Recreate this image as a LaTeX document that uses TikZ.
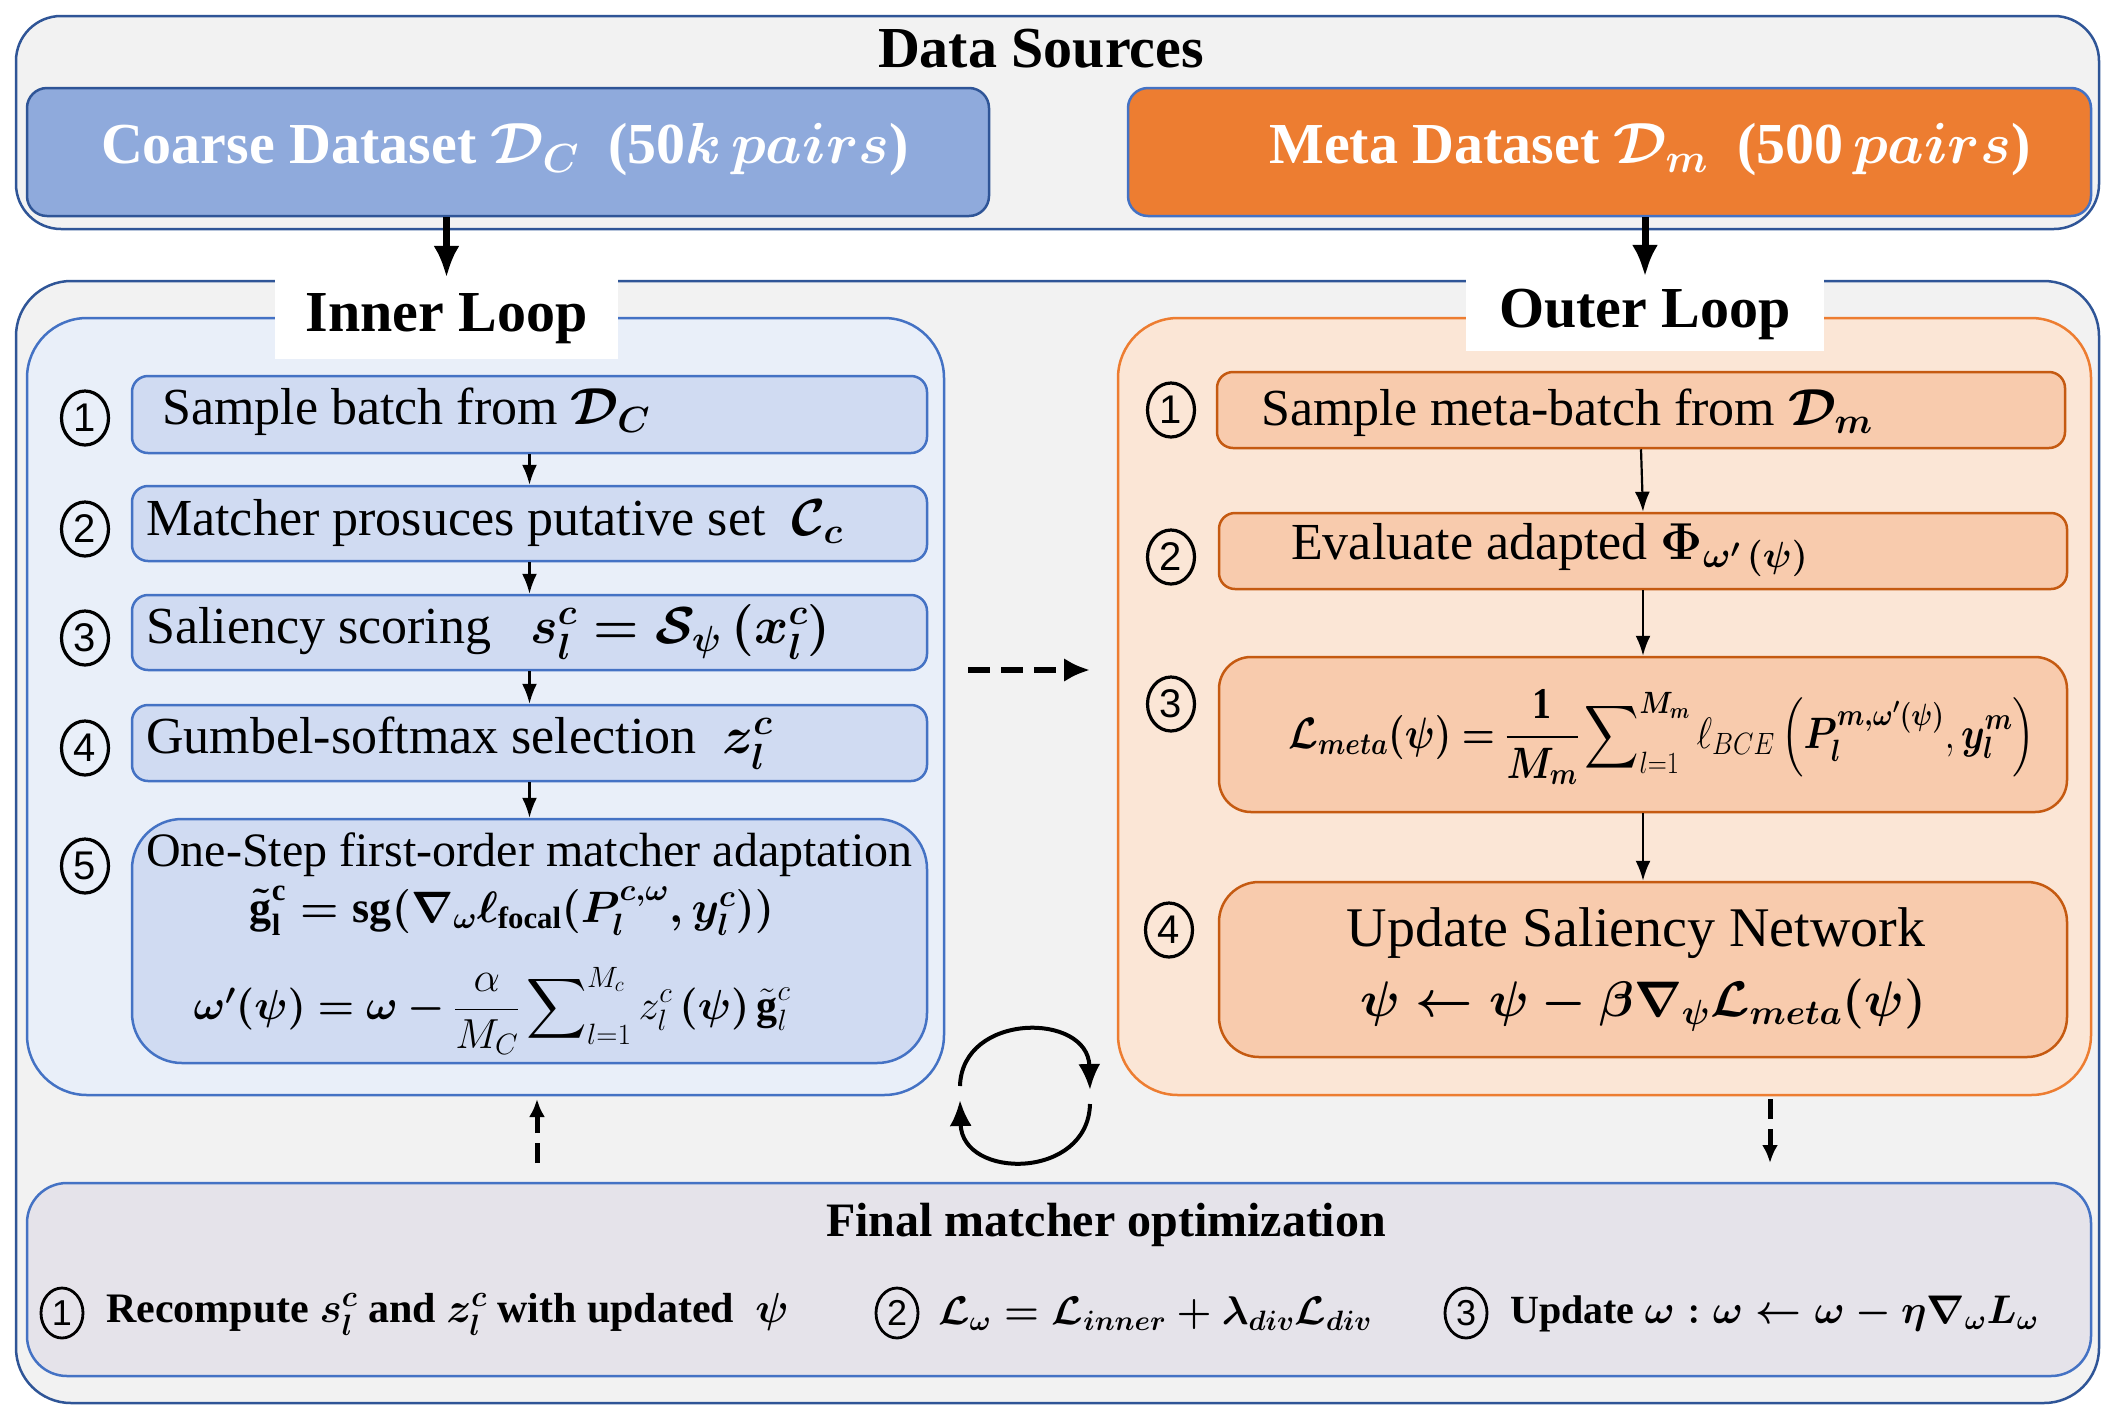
\RequirePackage{fix-cm}
\documentclass[tikz,border=0pt]{standalone}
\usepackage{amsmath,bm}
\DeclareFontShape{OMX}{cmex}{m}{n}{<->cmex10}{}
\usepackage{fontspec}
\setmainfont{Liberation Serif}
\newfontfamily\numfont{Liberation Sans}
\usetikzlibrary{arrows.meta,shapes.geometric}
\definecolor{dsfill}{HTML}{F2F2F2}
\definecolor{dsline}{HTML}{2F5597}
\definecolor{coarsefill}{HTML}{8FAADC}
\definecolor{metafill}{HTML}{ED7D31}
\definecolor{bluel}{HTML}{4472C4}
\definecolor{innerfill}{HTML}{E9EFF9}
\definecolor{stepblue}{HTML}{D0DBF2}
\definecolor{outerfill}{HTML}{FBE6D6}
\definecolor{orangel}{HTML}{ED7D31}
\definecolor{steporange}{HTML}{F8CBAD}
\definecolor{orangedark}{HTML}{C55A11}
\definecolor{finalfill}{HTML}{E5E3EA}
\newcommand{\fsz}[1]{\fontsize{#1pt}{#1pt}\selectfont}
\newcommand{\bmth}[1]{{\boldmath$#1$}}
\tikzset{
  rbox/.style={draw, line width=2.5pt, rounded corners=#1, inner sep=0pt},
  rbox/.default=15pt,
  bstep/.style={rbox=16pt, draw=bluel, fill=stepblue, minimum width=795pt},
  ostep/.style={rbox=16pt, draw=orangedark, fill=steporange, minimum width=848pt},
  plaintext/.style={inner sep=0pt, font=\fsz{52}},
  lefttext/.style={plaintext, anchor=west},
  numlabel/.style={ellipse, draw=black, line width=3.2pt, minimum width=47pt, minimum height=54pt, inner sep=0pt, font=\fsz{40}\numfont},
  smallnum/.style={numlabel, line width=2.8pt, minimum width=42pt, minimum height=50pt, font=\fsz{36}\numfont},
  flow/.style={draw=black, line width=2.2pt, -{Latex[length=20pt,width=15pt]}},
  feed/.style={draw=black, line width=7pt, -{Latex[length=32pt,width=26pt]}},
  hdash/.style={draw=black, line width=5.5pt, dash pattern=on 22pt off 11pt, -{Latex[length=26pt,width=24pt]}},
  vdash/.style={draw=black, line width=5pt, dash pattern=on 20pt off 10pt, -{Latex[length=18pt,width=16pt]}},
  cyc/.style={draw=black, line width=4pt, -{Latex[length=26pt,width=22pt]}}
}
\begin{document}
\begin{tikzpicture}[x=1pt,y=-1pt]
\fill[white] (0,0) rectangle (2115,1417);
\useasboundingbox (0,0) rectangle (2115,1417);

% ---------- Data sources ----------
\node[rbox=45pt, draw=dsline, fill=dsfill, minimum width=2083pt, minimum height=213pt] (ds) at (1057.5,122.5) {};
\node[inner sep=0pt, font=\fsz{58}\bfseries] (dstitle) at (1041,49) {Data Sources};
\node[rbox=20pt, draw=dsline, fill=coarsefill, minimum width=962pt, minimum height=128pt] (coarse) at (508,152) {};
\node[inner sep=0pt, text=white, font=\fsz{58}\bfseries] (coarsetxt) at (505,150) {Coarse Dataset \bmth{\mathcal{D}_C}\ \ (50\bmth{k}\,\bmth{pairs})};
\node[rbox=20pt, draw=bluel, fill=metafill, minimum width=963pt, minimum height=128pt] (meta) at (1609.5,152) {};
\node[inner sep=0pt, text=white, font=\fsz{58}\bfseries] (metatxt) at (1650,150) {Meta Dataset \bmth{\mathcal{D}_m}\ \ (500\,\bmth{pairs})};

% ---------- Middle frame ----------
\node[rbox=55pt, draw=dsline, fill=dsfill, minimum width=2083pt, minimum height=1122pt] (mid) at (1057.5,842) {};
\node[rbox=60pt, draw=bluel, fill=innerfill, minimum width=917pt, minimum height=777pt] (inner) at (485.5,706.5) {};
\node[rbox=60pt, draw=orangel, fill=outerfill, minimum width=973pt, minimum height=777pt] (outer) at (1604.5,706.5) {};
\node[fill=white, inner sep=0pt, minimum width=343pt, minimum height=81pt, font=\fsz{58}\bfseries] (innerlbl) at (446.5,318.5) {Inner Loop};
\node[fill=white, inner sep=0pt, minimum width=358pt, minimum height=74pt, font=\fsz{58}\bfseries] (outerlbl) at (1645,314) {Outer Loop};

\draw[feed] (coarse.south -| innerlbl.north) -- (innerlbl.north);
\draw[feed] (meta.south -| outerlbl.north) -- (outerlbl.north);

% ---------- Inner loop steps ----------
\node[bstep, minimum height=77pt] (s1) at (529.5,414.5) {};
\node[bstep, minimum height=75pt] (s2) at (529.5,523.5) {};
\node[bstep, minimum height=75pt] (s3) at (529.5,632.5) {};
\node[bstep, minimum height=76pt] (s4) at (529.5,743) {};
\node[bstep, rbox=50pt, minimum height=244pt] (s5) at (529.5,941) {};

\node[numlabel] (n1) at (85,418) {1};
\node[numlabel] (n2) at (85,529) {2};
\node[numlabel] (n3) at (85,638) {3};
\node[numlabel] (n4) at (85,748) {4};
\node[numlabel] (n5) at (85,866) {5};

\node[lefttext] (t1) at (162,412) {Sample batch from \bmth{\mathcal{D}_C}};
\node[lefttext] (t2) at (146,523) {Matcher prosuces putative set\ \ \bmth{\mathcal{C}_c}};
\node[lefttext] (t3) at (146,632) {Saliency scoring\ \ \ \bmth{s_l^c = \mathcal{S}_\psi\,(x_l^c)}};
\node[lefttext] (t4) at (146,743) {Gumbel-softmax selection\ \ \bmth{z_l^c}};
\node[lefttext, font=\fsz{48}] (t5) at (146,855) {One-Step first-order matcher adaptation};
\node[plaintext, font=\fsz{44}] (t5g) at (512,911) {\bmth{\tilde{\textbf{g}}_{\textbf{l}}^{\textbf{c}} = \textbf{sg}(\nabla_{\omega}\ell_{\textbf{focal}}(P_l^{c,\omega},y_l^c))}};
\node[plaintext, font=\fsz{42}] (t5w) at (492,1011) {$\boldsymbol{\omega'(\psi) = \omega -} \dfrac{\alpha}{M_C}\displaystyle\sum\nolimits_{l=1}^{M_c} z_l^c\,\boldsymbol{(\psi)}\,\tilde{\textbf{g}}_l^c$};

\draw[flow] (s1.south) -- (s2.north);
\draw[flow] (s2.south) -- (s3.north);
\draw[flow] (s3.south) -- (s4.north);
\draw[flow] (s4.south) -- (s5.north);

% ---------- Outer loop steps ----------
\node[ostep, minimum height=76pt] (o1) at (1641,410) {};
\node[ostep, minimum height=76pt] (o2) at (1643,551) {};
\node[ostep, rbox=32pt, minimum height=155pt] (o3) at (1643,734.5) {};
\node[ostep, rbox=40pt, minimum height=175pt] (o4) at (1643,969.5) {};

\node[numlabel] (m1) at (1171,410) {1};
\node[numlabel] (m2) at (1171,557) {2};
\node[numlabel] (m3) at (1171,704) {3};
\node[numlabel] (m4) at (1169,930) {4};

\node[lefttext] (u1) at (1261,413) {Sample meta-batch from \bmth{\mathcal{D}_m}};
\node[lefttext] (u2) at (1291,550) {Evaluate adapted \bmth{\Phi_{\omega'\,(\psi)}}};
\node[lefttext, font=\fsz{44}] (u3) at (1288,737) {\scalebox{0.86}[1]{$\boldsymbol{\mathcal{L}_{meta}(\psi) =} \dfrac{\mathbf{1}}{\boldsymbol{M_m}}\displaystyle\sum\nolimits_{l=1}^{\boldsymbol{M_m}}\ell_{BCE}\left(\boldsymbol{P_l^{m,\omega'(\psi)}},\boldsymbol{y_l^m}\right)$}};
\node[plaintext, font=\fsz{56}] (u4a) at (1636,933) {Update Saliency Network};
\node[plaintext, font=\fsz{50}] (u4b) at (1643,1005) {\bmth{\psi \leftarrow \psi - \beta\nabla_\psi\mathcal{L}_{meta}(\psi)}};

\draw[flow] (o1.south) -- (o2.north);
\draw[flow] (o2.south) -- (o3.north);
\draw[flow] (o3.south) -- (o4.north);

% ---------- Between loops ----------
\coordinate (da) at (968,670);
\coordinate (db) at (1090,670);
\draw[hdash] (da) -- (db);

\coordinate (ca) at (960,1086);
\coordinate (cb) at (1090,1090);
\coordinate (cc) at (1090,1104);
\coordinate (cd) at (960,1100);
\draw[cyc] (ca) .. controls (962,1012) and (1088,1012) .. (cb);
\draw[cyc] (cc) .. controls (1088,1180) and (962,1180) .. (cd);

% ---------- Final ----------
\node[rbox=40pt, draw=bluel, fill=finalfill, minimum width=2064pt, minimum height=193pt] (final) at (1059,1279.5) {};
\node[plaintext, font=\fsz{48}\bfseries] (ftitle) at (1106,1225) {Final matcher optimization};
\node[smallnum] (fn1) at (62,1313) {1};
\node[lefttext, font=\fsz{42}\bfseries] (f1) at (106,1314) {Recompute \bmth{s_l^c} and \bmth{z_l^c} with updated\ \ \bmth{\psi}};
\node[smallnum] (fn2) at (897,1313) {2};
\node[lefttext, font=\fsz{40}\bfseries] (f2) at (938,1314) {\bmth{\mathcal{L}_\omega = \mathcal{L}_{inner} + \lambda_{div}\mathcal{L}_{div}}};
\node[smallnum] (fn3) at (1466,1313) {3};
\node[lefttext, font=\fsz{40}\bfseries] (f3) at (1510,1314) {Update \bmth{\omega : \omega \leftarrow \omega - \eta\nabla_\omega L_\omega}};

\coordinate (ua) at (537,1163);
\coordinate (ub) at (537,1099);
\draw[vdash] (ua) -- (ub);
\coordinate (va) at (1770,1099);
\coordinate (vb) at (1770,1163);
\draw[vdash] (va) -- (vb);
\end{tikzpicture}
\end{document}
